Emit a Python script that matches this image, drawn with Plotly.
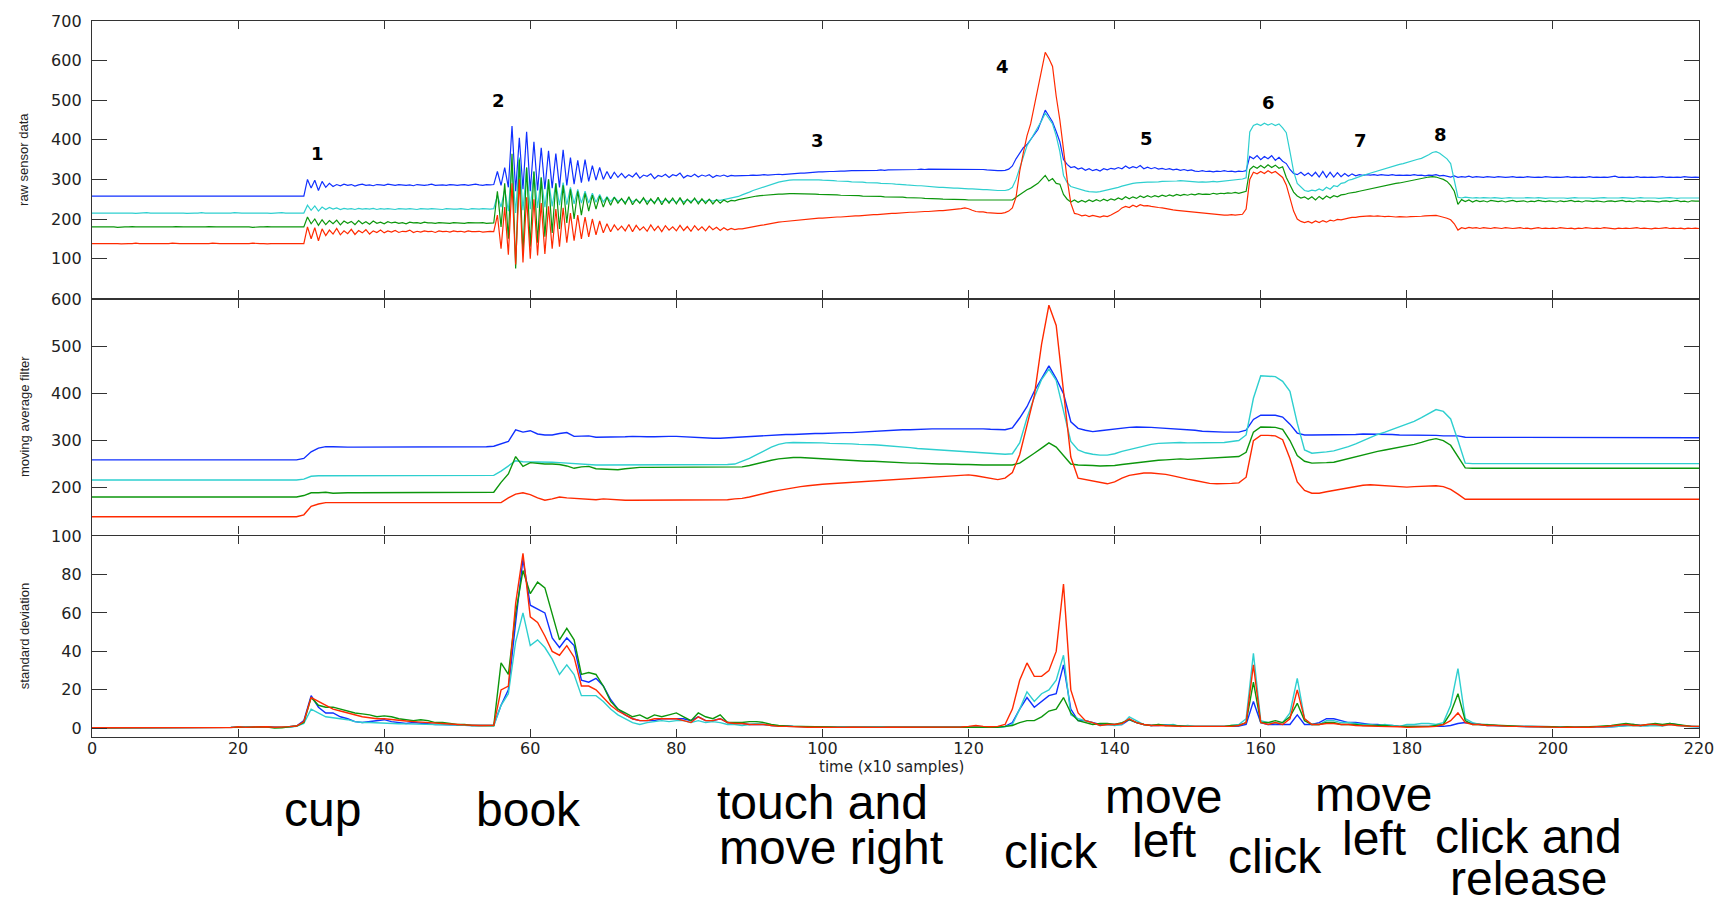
import plotly.graph_objects as go

# ---------------- data: raw sensor data, one value per 0.5 time unit (t = 0 .. 220) ----------------
BLUE_RAW = [
    258, 258, 257, 258, 258, 258, 257, 258, 258, 258, 258, 257, 258, 258, 258, 258, 258, 257, 258, 258,
    258, 258, 258, 257, 258, 258, 258, 258, 257, 258, 258, 258, 258, 258, 257, 258, 258, 258, 258, 258,
    257, 258, 258, 258, 258, 258, 258, 257, 258, 258, 258, 258, 258, 258, 257, 258, 258, 258, 258, 300,
    278, 298, 272, 295, 280, 290, 282, 287, 284, 288, 285, 287, 283, 286, 288, 285, 286, 284, 287, 286,
    285, 288, 286, 285, 287, 286, 285, 286, 284, 287, 286, 285, 286, 288, 285, 286, 286, 285, 287, 286,
    285, 286, 287, 285, 286, 288, 286, 285, 287, 286, 287, 320, 285, 330, 280, 435, 270, 405, 275, 420,
    270, 395, 272, 380, 275, 372, 278, 365, 280, 375, 285, 355, 288, 348, 292, 350, 295, 335, 298, 330,
    300, 320, 302, 318, 305, 315, 304, 312, 306, 316, 303, 311, 308, 314, 302, 310, 307, 313, 305, 312,
    309, 316, 304, 310, 307, 313, 306, 311, 308, 312, 305, 310, 308, 311, 307, 310, 309, 309, 310, 309,
    310, 311, 310, 311, 312, 311, 312, 312, 313, 312, 313, 314, 314, 315, 316, 316, 317, 318, 318, 319,
    319, 320, 320, 320, 321, 321, 321, 322, 322, 322, 322, 323, 322, 323, 323, 323, 324, 323, 324, 324,
    324, 325, 324, 325, 325, 325, 325, 326, 325, 326, 326, 326, 326, 326, 326, 326, 326, 326, 326, 326,
    326, 326, 326, 325, 325, 324, 323, 323, 322, 322, 323, 326, 334, 352, 367, 380, 388, 400, 412, 426,
    450, 475, 460, 445, 421, 395, 350, 338, 330, 332, 326, 329, 323, 327, 322, 325, 321, 327, 324, 328,
    326, 330, 327, 334, 328, 332, 329, 335, 327, 331, 327, 330, 326, 328, 325, 327, 324, 326, 323, 325,
    322, 324, 321, 320, 322, 320, 321, 319, 321, 320, 322, 320, 321, 319, 321, 320, 322, 358, 352, 360,
    350, 358, 352, 360, 348, 356, 346, 340, 325, 315, 312, 318, 310, 316, 308, 318, 306, 320, 305, 318,
    306, 317, 307, 315, 308, 314, 309, 312, 310, 312, 311, 312, 310, 312, 311, 310, 312, 310, 311, 310,
    311, 310, 312, 310, 311, 309, 311, 310, 312, 309, 310, 308, 306, 309, 305, 307, 306, 308, 305, 307,
    306, 305, 307, 306, 305, 307, 306, 305, 306, 307, 305, 306, 305, 307, 306, 305, 306, 305, 307, 306,
    305, 306, 305, 306, 307, 305, 306, 305, 306, 305, 307, 305, 306, 305, 306, 305, 306, 308, 305, 306,
    305, 306, 305, 307, 305, 306, 305, 306, 305, 306, 307, 305, 306, 305, 306, 305, 307, 306, 305, 306,
    305,
]
CYAN_RAW = [
    215, 215, 216, 215, 215, 215, 215, 216, 215, 215, 215, 215, 214, 215, 215, 216, 215, 215, 215, 215,
    215, 215, 216, 215, 215, 215, 214, 215, 215, 215, 216, 215, 215, 215, 215, 215, 214, 215, 215, 216,
    215, 215, 215, 215, 216, 215, 215, 215, 215, 214, 215, 215, 216, 215, 215, 215, 215, 215, 215, 235,
    222, 233, 220, 230, 224, 229, 225, 228, 224, 227, 225, 226, 224, 227, 225, 226, 225, 227, 224, 226,
    225, 226, 225, 224, 226, 225, 225, 226, 225, 224, 226, 225, 225, 226, 225, 225, 224, 226, 225, 225,
    225, 226, 225, 224, 226, 225, 225, 226, 225, 225, 226, 260, 230, 275, 220, 340, 215, 355, 222, 330,
    225, 320, 228, 305, 230, 300, 232, 290, 235, 292, 236, 280, 238, 275, 240, 270, 240, 265, 242, 262,
    243, 256, 244, 255, 245, 250, 242, 252, 243, 249, 241, 251, 244, 248, 242, 250, 243, 249, 244, 248,
    242, 250, 243, 249, 244, 250, 243, 248, 244, 249, 245, 248, 247, 249, 250, 252, 255, 257, 261, 264,
    268, 272, 275, 278, 282, 285, 288, 290, 293, 295, 297, 298, 299, 299, 300, 300, 300, 299, 299, 299,
    298, 298, 297, 297, 296, 296, 295, 295, 294, 294, 293, 293, 292, 292, 291, 291, 290, 290, 289, 289,
    288, 288, 287, 286, 285, 285, 284, 284, 283, 282, 282, 281, 280, 280, 279, 279, 278, 278, 277, 277,
    276, 276, 275, 275, 274, 274, 273, 273, 272, 272, 272, 274, 280, 300, 330, 360, 385, 400, 415, 430,
    448, 467, 455, 440, 410, 370, 310, 292, 282, 279, 276, 273, 271, 269, 268, 268, 269, 271, 273, 275,
    277, 280, 283, 286, 288, 290, 291, 292, 292, 293, 293, 293, 294, 295, 295, 296, 296, 296, 297, 296,
    295, 294, 294, 293, 294, 293, 294, 295, 294, 295, 296, 296, 297, 298, 299, 301, 304, 420, 436, 440,
    436, 442, 437, 441, 436, 440, 430, 418, 370, 320, 290, 280, 272, 270, 273, 271, 276, 272, 280, 275,
    284, 282, 290, 292, 298, 300, 304, 307, 310, 313, 316, 319, 322, 324, 327, 330, 333, 335, 338, 340,
    343, 346, 348, 351, 353, 357, 362, 368, 370, 366, 360, 352, 340, 300, 255, 253, 255, 254, 253, 254,
    253, 254, 253, 253, 254, 253, 252, 253, 254, 253, 253, 252, 253, 254, 253, 253, 254, 253, 252, 253,
    253, 254, 253, 253, 252, 253, 254, 253, 253, 254, 253, 252, 253, 253, 254, 253, 253, 252, 253, 254,
    253, 253, 252, 253, 254, 253, 253, 254, 253, 252, 253, 253, 254, 253, 252, 253, 253, 254, 253, 253,
    253,
]
GREEN_RAW = [
    180, 180, 181, 180, 180, 180, 180, 179, 180, 180, 180, 181, 180, 180, 180, 180, 180, 180, 179, 180,
    180, 180, 180, 181, 180, 180, 180, 180, 180, 179, 180, 180, 181, 180, 180, 180, 180, 180, 180, 181,
    180, 180, 180, 180, 179, 180, 180, 180, 181, 180, 180, 180, 180, 180, 180, 179, 180, 180, 180, 205,
    188, 200, 184, 198, 186, 196, 188, 197, 185, 195, 189, 194, 186, 196, 188, 193, 187, 195, 189, 192,
    188, 193, 190, 192, 189, 191, 188, 192, 190, 191, 189, 192, 190, 190, 189, 191, 190, 190, 189, 191,
    190, 190, 189, 191, 190, 190, 190, 191, 189, 190, 190, 270, 180, 290, 150, 365, 75, 350, 110, 330,
    130, 320, 140, 305, 155, 300, 165, 290, 175, 285, 190, 275, 200, 270, 210, 265, 220, 260, 225, 258,
    230, 255, 235, 255, 240, 252, 238, 256, 236, 250, 240, 254, 237, 251, 239, 255, 236, 252, 240, 253,
    238, 254, 237, 250, 240, 253, 238, 251, 239, 250, 238, 249, 240, 248, 243, 247, 246, 249, 251, 253,
    255, 257, 258, 259, 260, 261, 262, 262, 263, 263, 264, 264, 264, 264, 264, 264, 263, 263, 263, 262,
    262, 262, 261, 261, 261, 260, 260, 260, 259, 259, 259, 258, 258, 258, 257, 257, 257, 256, 256, 256,
    255, 255, 255, 254, 254, 253, 253, 253, 252, 252, 251, 251, 251, 250, 250, 250, 249, 249, 249, 249,
    248, 248, 248, 248, 247, 247, 247, 247, 247, 247, 247, 247, 248, 255, 262, 268, 274, 278, 285, 290,
    300, 310, 296, 302, 290, 288, 262, 250, 243, 248, 242, 247, 243, 248, 244, 249, 245, 250, 246, 251,
    248, 253, 249, 256, 251, 256, 252, 258, 254, 259, 255, 259, 256, 260, 257, 261, 258, 262, 259, 262,
    260, 263, 261, 264, 262, 263, 262, 265, 263, 265, 264, 266, 265, 267, 265, 268, 270, 325, 333, 328,
    335, 329, 337, 330, 336, 328, 332, 305, 285, 268, 258, 253, 256, 250, 256, 248, 257, 250, 258, 253,
    259, 256, 261, 262, 265, 266, 268, 270, 272, 274, 276, 278, 281, 283, 285, 287, 289, 290, 291, 293,
    294, 296, 298, 300, 302, 304, 306, 307, 306, 303, 300, 295, 285, 270, 237, 249, 244, 248, 243, 247,
    244, 246, 243, 247, 245, 244, 246, 243, 245, 247, 244, 245, 246, 243, 245, 244, 247, 245, 244, 246,
    245, 243, 246, 244, 245, 247, 244, 245, 243, 246, 245, 244, 246, 245, 243, 245, 246, 244, 245, 247,
    244, 245, 243, 246, 245, 244, 246, 245, 244, 243, 245, 246, 244, 245, 247, 244, 245, 243, 246, 245,
    245,
]
RED_RAW = [
    138, 138, 138, 139, 138, 138, 138, 138, 137, 138, 138, 138, 139, 138, 138, 138, 138, 138, 138, 137,
    138, 138, 139, 138, 138, 138, 138, 137, 138, 138, 138, 138, 138, 139, 138, 138, 138, 138, 137, 138,
    138, 138, 138, 138, 139, 138, 138, 138, 137, 138, 138, 138, 138, 138, 139, 138, 138, 138, 138, 180,
    150, 178, 145, 175, 158, 172, 162, 176, 160, 170, 163, 174, 161, 171, 165, 173, 162, 170, 166, 172,
    165, 170, 167, 171, 166, 169, 168, 172, 166, 169, 167, 170, 168, 169, 166, 170, 168, 169, 167, 170,
    168, 169, 167, 170, 168, 168, 169, 167, 168, 169, 168, 210, 125, 230, 110, 290, 85, 300, 90, 255,
    100, 250, 108, 240, 112, 232, 125, 225, 130, 228, 140, 215, 145, 210, 150, 205, 155, 200, 160, 195,
    165, 188, 168, 185, 172, 182, 170, 186, 168, 184, 172, 180, 169, 185, 171, 182, 168, 183, 172, 180,
    170, 184, 171, 181, 169, 183, 172, 180, 170, 182, 173, 179, 171, 178, 172, 176, 173, 175, 175, 177,
    178, 180, 182, 184, 185, 187, 189, 190, 192, 193, 194, 195, 196, 197, 198, 199, 200, 200, 201, 202,
    202, 203, 203, 204, 205, 205, 206, 207, 207, 208, 208, 209, 210, 210, 211, 211, 212, 212, 213, 214,
    214, 215, 215, 216, 217, 217, 218, 218, 219, 219, 220, 220, 221, 221, 222, 222, 223, 224, 226, 228,
    226, 222, 219, 218, 218, 216, 215, 214, 214, 214, 216, 220, 228, 255, 320, 367, 410, 440, 484, 530,
    580, 621, 605, 585, 510, 450, 376, 300, 240, 214, 212, 208, 210, 206, 209, 207, 205, 208, 206, 210,
    214, 220, 228, 232, 229, 235, 231, 236, 233, 234, 232, 230, 229, 228, 226, 225, 223, 222, 221, 221,
    220, 219, 218, 217, 215, 214, 213, 212, 211, 211, 210, 210, 211, 210, 211, 212, 225, 300, 318, 314,
    320, 315, 322, 316, 320, 312, 305, 286, 250, 220, 200, 194, 191, 194, 190, 195, 191, 196, 192, 197,
    195, 199, 198, 201, 202, 204, 204, 206, 207, 207, 208, 207, 208, 207, 206, 207, 206, 205, 206, 205,
    205, 206, 206, 207, 207, 208, 208, 208, 209, 207, 205, 202, 198, 188, 172, 178, 176, 179, 177, 178,
    176, 178, 177, 176, 178, 177, 176, 178, 177, 176, 177, 178, 176, 177, 175, 177, 178, 176, 177, 176,
    177, 176, 178, 177, 176, 177, 175, 177, 176, 178, 177, 176, 177, 176, 178, 177, 176, 175, 177, 176,
    177, 176, 177, 178, 176, 177, 176, 175, 177, 176, 177, 178, 176, 177, 176, 177, 175, 177, 176, 177,
    176,
]

# ---------------- data: moving average filter, one value per time unit (t = 0 .. 220) ----------------
BLUE_MA = [
    259, 259, 259, 259, 259, 259, 259, 259, 259, 259,
    259, 259, 259, 259, 259, 259, 259, 259, 259, 259,
    259, 259, 259, 259, 259, 259, 259, 259, 259, 262,
    276, 284, 287, 287, 286, 286, 286, 286, 286, 287,
    287, 287, 287, 286, 286, 286, 287, 287, 286, 287,
    287, 287, 287, 287, 287, 288, 293, 298, 323, 318,
    321, 314, 312, 312, 315, 317, 309, 309, 310, 307,
    307, 308, 308, 308, 309, 308, 308, 308, 309, 309,
    309, 308, 307, 307, 306, 305, 305, 306, 307, 307,
    308, 309, 310, 311, 312, 313, 313, 314, 314, 315,
    315, 316, 316, 317, 317, 318, 319, 320, 321, 322,
    322, 323, 323, 324, 324, 325, 325, 325, 326, 326,
    326, 326, 325, 324, 323, 323, 327, 348, 372, 405,
    432, 459, 432, 400, 340, 326, 322, 319, 321, 323,
    325, 327, 328, 329, 329, 328, 327, 326, 326, 325,
    324, 322, 320, 319, 318, 318, 318, 318, 322, 345,
    354, 354, 354, 350, 335, 316, 312, 312, 312, 312,
    312, 312, 313, 313, 314, 314, 314, 313, 313, 312,
    312, 312, 311, 311, 311, 310, 310, 310, 307, 307,
    307, 307, 307, 306, 307, 307, 307, 306, 307, 307,
    307, 307, 306, 307, 307, 307, 306, 307, 307, 307,
    307, 306, 307, 307, 307, 306, 307, 307, 307, 306,
    306,
]
CYAN_MA = [
    216, 216, 216, 216, 216, 216, 216, 216, 216, 216,
    216, 216, 216, 216, 216, 216, 216, 216, 216, 216,
    216, 216, 216, 216, 216, 216, 216, 216, 216, 218,
    224, 225, 225, 225, 225, 225, 225, 225, 225, 225,
    225, 225, 225, 225, 225, 225, 225, 225, 225, 225,
    225, 225, 225, 225, 225, 226, 235, 247, 257, 255,
    255, 255, 254, 254, 253, 252, 250, 250, 249, 248,
    248, 248, 248, 248, 248, 248, 248, 248, 248, 248,
    248, 248, 248, 248, 248, 248, 248, 249, 250, 256,
    262, 270, 278, 286, 292, 295, 296, 296, 296, 295,
    295, 294, 294, 293, 293, 292, 292, 291, 290, 289,
    287, 286, 285, 283, 282, 281, 280, 279, 278, 277,
    276, 275, 273, 272, 272, 271, 272, 295, 348, 392,
    430, 452, 428, 365, 298, 280, 274, 271, 269, 269,
    272, 277, 281, 285, 289, 292, 294, 295, 296, 296,
    295, 295, 295, 295, 295, 296, 298, 300, 312, 390,
    438, 437, 436, 426, 405, 337, 280, 273, 274, 276,
    278, 282, 287, 293, 300, 307, 313, 318, 324, 329,
    335, 341, 349, 358, 366, 362, 346, 300, 252, 251,
    251, 251, 251, 251, 251, 251, 251, 251, 251, 251,
    251, 251, 251, 251, 251, 251, 251, 251, 251, 251,
    251, 251, 251, 251, 251, 251, 251, 251, 251, 251,
    251,
]
GREEN_MA = [
    180, 180, 180, 180, 180, 180, 180, 180, 180, 180,
    180, 180, 180, 180, 180, 180, 180, 180, 180, 180,
    180, 180, 180, 180, 180, 180, 180, 180, 180, 183,
    189, 189, 190, 188, 189, 189, 189, 189, 189, 189,
    189, 189, 189, 189, 189, 189, 189, 189, 189, 189,
    189, 189, 189, 189, 189, 190, 211, 229, 266, 245,
    253, 251, 250, 250, 249, 246, 241, 244, 245, 240,
    239, 238, 238, 240, 242, 243, 243, 243, 243, 243,
    243, 243, 243, 243, 243, 243, 243, 243, 243, 244,
    247, 251, 255, 258, 261, 263, 264, 264, 263, 262,
    261, 260, 259, 258, 258, 257, 256, 256, 255, 254,
    253, 253, 252, 252, 251, 251, 250, 250, 249, 249,
    249, 248, 248, 248, 248, 248, 248, 252, 262, 273,
    284, 295, 286, 268, 250, 248, 248, 247, 246, 246,
    247, 249, 251, 253, 255, 257, 258, 259, 260, 261,
    260, 261, 262, 263, 264, 264, 265, 266, 275, 318,
    329, 329, 328, 324, 300, 268, 256, 252, 252, 253,
    254, 258, 262, 266, 270, 274, 277, 280, 283, 286,
    288, 292, 296, 301, 304, 300, 290, 265, 242, 241,
    241, 241, 241, 241, 241, 241, 241, 241, 241, 241,
    241, 241, 241, 241, 241, 241, 241, 241, 241, 241,
    241, 241, 241, 241, 241, 241, 241, 241, 241, 241,
    241,
]
RED_MA = [
    138, 138, 138, 138, 138, 138, 138, 138, 138, 138,
    138, 138, 138, 138, 138, 138, 138, 138, 138, 138,
    138, 138, 138, 138, 138, 138, 138, 138, 138, 142,
    160, 165, 168, 168, 168, 168, 168, 168, 168, 168,
    168, 168, 168, 168, 168, 168, 168, 168, 168, 168,
    168, 168, 168, 168, 168, 167, 168, 178, 186, 189,
    185, 178, 173, 176, 180, 178, 177, 177, 176, 174,
    176, 175, 173, 173, 173, 173, 173, 173, 173, 173,
    173, 173, 173, 173, 173, 173, 173, 174, 176, 177,
    180, 184, 188, 191, 194, 197, 200, 202, 204, 206,
    207, 208, 209, 211, 212, 213, 214, 215, 216, 217,
    218, 219, 220, 221, 222, 223, 224, 225, 226, 227,
    227, 225, 222, 219, 217, 220, 232, 270, 330, 395,
    505, 588, 545, 400, 265, 220, 217, 215, 211, 208,
    212, 220, 226, 229, 231, 231, 230, 228, 225, 221,
    218, 215, 212, 209, 208, 208, 209, 210, 222, 300,
    311, 311, 310, 302, 262, 212, 194, 188, 188, 191,
    194, 197, 200, 203, 205, 206, 205, 204, 203, 202,
    201, 202, 203, 204, 204, 202, 196, 186, 175, 175,
    175, 175, 175, 175, 175, 175, 175, 175, 175, 175,
    175, 175, 175, 175, 175, 175, 175, 175, 175, 175,
    175, 175, 175, 175, 175, 175, 175, 175, 175, 175,
    175,
]

# ---------------- data: standard deviation, one value per time unit (t = 0 .. 220) ----------------
BLUE_SD = [
    0.3, 0.2, 0.3, 0.2, 0.3, 0.3, 0.2, 0.3, 0.2, 0.3,
    0.3, 0.2, 0.4, 0.3, 0.3, 0.2, 0.3, 0.3, 0.4, 0.5,
    0.6, 0.5, 0.7, 0.6, 0.8, 0.7, 0.5, 0.8, 1.2, 4,
    17, 11, 8, 8, 6, 5, 3.5, 3, 3.5, 4,
    4.5, 3.5, 3, 2.5, 3, 2.6, 2.2, 2, 2, 1.8,
    1.7, 1.6, 1.5, 1.5, 1.5, 1.7, 12, 20, 55, 88,
    64, 62, 60, 47, 42, 47, 43, 25, 24, 26,
    22, 15, 10, 7, 5, 4, 4, 4, 5, 5,
    5, 5, 4, 6, 4, 4, 5, 3, 2.5, 2.5,
    2, 2, 2, 1.5, 1.5, 1.2, 1, 1, 0.8, 0.8,
    0.8, 0.7, 0.6, 0.6, 0.5, 0.5, 0.5, 0.4, 0.5, 0.5,
    0.5, 0.4, 0.4, 0.5, 0.5, 0.5, 0.4, 0.5, 0.5, 0.5,
    0.5, 0.6, 0.6, 0.5, 0.6, 1, 3, 10, 16, 11,
    14, 17, 18, 33, 10, 4, 4, 3, 2, 2,
    2, 2, 4.5, 3, 2, 1.5, 1.5, 1.8, 1.5, 1.2,
    1, 1, 1, 0.8, 0.8, 0.8, 1, 1.2, 2, 14,
    3, 2, 2, 2, 2, 7, 2, 2, 3, 5,
    5, 4, 3, 3, 2.5, 2, 2, 1.5, 1.5, 1,
    1, 1, 1, 1, 1, 1, 1.5, 2.5, 3, 2.5,
    2, 1.5, 1.5, 1.2, 1, 1, 1, 0.8, 0.8, 0.8,
    0.8, 0.6, 0.6, 0.5, 0.6, 0.8, 0.6, 0.6, 0.8, 1,
    1.5, 2, 1.5, 1.5, 2, 1.5, 2.5, 1.8, 1.2, 1,
    0.8,
]
CYAN_SD = [
    0.2, 0.2, 0.3, 0.2, 0.2, 0.3, 0.2, 0.2, 0.3, 0.2,
    0.2, 0.3, 0.2, 0.3, 0.2, 0.2, 0.3, 0.3, 0.3, 0.4,
    0.5, 0.5, 0.6, 0.6, 0.7, 0.5, 0.4, 0.7, 1, 2.5,
    10, 8, 6, 5.5, 5, 4.5, 3.5, 3, 3, 2.8,
    2.5, 2.5, 2.4, 2.3, 2.2, 2, 2, 1.9, 1.8, 1.7,
    1.5, 1.4, 1.3, 1.3, 1.2, 1.2, 12, 18, 45, 60,
    43, 46, 42, 36, 28, 33, 28, 17, 17, 17,
    14, 10, 7, 5, 3, 2, 3, 3.5, 4, 3.5,
    4, 4, 3, 4, 3, 3.5, 3, 2, 2, 1.5,
    2, 2.5, 2, 1.5, 1, 1, 1, 0.8, 0.8, 0.8,
    0.8, 0.7, 0.6, 0.6, 0.5, 0.5, 0.5, 0.5, 0.4, 0.5,
    0.5, 0.5, 0.4, 0.4, 0.5, 0.4, 0.5, 0.5, 0.4, 0.5,
    0.5, 0.5, 0.6, 0.5, 0.5, 0.8, 2, 10, 19, 14,
    18, 20, 25, 38, 7, 5, 4, 3, 1.5, 2,
    1.5, 2, 6, 4, 2, 1.5, 2, 1.5, 2, 1,
    1.5, 1, 1, 1, 1, 1, 1.5, 2, 5, 39,
    4, 3, 2.5, 3, 8, 26, 5, 2, 2, 4,
    4, 3, 3, 2.5, 2, 2, 1.5, 2, 1.5, 1,
    2, 2, 2.5, 2.5, 2, 3, 12, 31, 5, 3,
    2, 2, 1.5, 1.5, 1.2, 1, 1, 0.8, 0.8, 0.6,
    0.6, 0.5, 0.6, 0.5, 0.5, 0.6, 0.5, 0.6, 0.8, 1,
    1.2, 1.5, 1.2, 1.5, 1.5, 1.2, 2, 1.5, 1, 0.8,
    0.8,
]
GREEN_SD = [
    0.3, 0.3, 0.2, 0.3, 0.3, 0.3, 0.2, 0.3, 0.3, 0.2,
    0.3, 0.4, 0.5, 0.4, 0.3, 0.4, 0.3, 0.3, 0.4, 0.5,
    0.6, 0.5, 0.6, 0.8, 0.7, 0.2, 0.3, 0.8, 1.2, 3,
    16, 12, 11, 11, 10, 9, 8, 7.5, 7, 6,
    6.5, 6, 5, 4.5, 4, 4.5, 4, 3, 3, 2.5,
    2, 2, 1.5, 1.5, 1.5, 1.5, 34, 28, 60, 82,
    70, 76, 73, 60, 46, 52, 46, 28, 29, 28,
    22, 14, 10, 8, 6, 7, 5, 7, 6, 7,
    8, 6, 4, 8, 6, 5, 7, 3, 3, 3,
    3.5, 3.5, 3, 2, 1.5, 1.2, 1, 1, 1, 0.8,
    0.8, 0.7, 0.6, 0.6, 0.5, 0.5, 0.5, 0.5, 0.4, 0.5,
    0.5, 0.5, 0.4, 0.3, 0.4, 0.4, 0.5, 0.4, 0.5, 0.5,
    0.6, 0.6, 0.5, 0.6, 0.6, 1, 1.5, 3, 4, 4,
    6, 9, 10, 16, 8, 4, 3, 2, 2.5, 2.5,
    2, 3, 4.5, 3, 2, 1.5, 2, 1.5, 1.5, 1.2,
    1, 1, 1, 1, 1, 1, 1.5, 1.5, 3, 24,
    3, 3, 4, 3, 6, 13, 4, 2, 2, 3,
    3, 2, 2, 2, 1.5, 1.5, 1.5, 1.5, 1, 1,
    1, 1, 1, 1, 1.5, 2, 8, 18, 4, 2,
    2, 1.8, 1.5, 1.5, 1.2, 1.2, 1, 1, 1, 0.8,
    0.8, 0.6, 0.8, 0.6, 0.6, 0.8, 1, 1.2, 1.5, 2,
    2.5, 2, 1.5, 2, 2.5, 2, 2.5, 2, 1.5, 1,
    1,
]
RED_SD = [
    0.3, 0.3, 0.3, 0.2, 0.3, 0.3, 0.3, 0.2, 0.3, 0.3,
    0.3, 0.3, 0.4, 0.3, 0.3, 0.4, 0.3, 0.3, 0.4, 0.4,
    0.8, 0.5, 0.7, 0.8, 0.8, 0.6, 0.6, 0.9, 1.2, 3.5,
    16, 14, 12, 10, 9, 8, 7, 6, 5.5, 5,
    5, 4.5, 4, 3.8, 3.5, 3.2, 3, 2.8, 2.5, 2.2,
    2, 1.8, 1.5, 1.5, 1.5, 1.6, 20, 22, 65, 91,
    58, 55, 48, 40, 38, 43, 37, 22, 22, 20,
    16, 12, 9, 7, 5, 4, 4, 5, 5, 5,
    5, 4, 3, 6, 4, 4, 5, 3, 2.5, 2.5,
    2, 2, 2, 1.5, 1, 1, 0.8, 0.8, 0.6, 0.6,
    0.5, 0.6, 0.5, 0.5, 0.6, 0.5, 0.5, 0.6, 0.5, 0.6,
    0.6, 0.5, 0.5, 0.6, 0.6, 0.5, 0.6, 0.5, 0.6, 0.7,
    1, 1.5, 1, 0.8, 1, 2, 10, 25, 34, 27,
    27, 30, 40, 75, 20, 8, 4, 3, 1.5, 2,
    2, 2.5, 5, 3, 2, 1.5, 1.5, 1.5, 1.2, 1,
    1, 0.8, 0.8, 0.8, 0.8, 1, 1, 1.5, 3, 33,
    3, 2, 3, 2, 5, 20, 5, 2, 2, 2.5,
    2.5, 2, 2, 1.5, 1.5, 1.2, 1, 1, 0.8, 0.8,
    0.5, 0.5, 0.5, 0.8, 1, 2, 4, 8, 3, 2,
    2, 1.5, 1.5, 1.2, 1, 1, 0.8, 0.8, 0.8, 0.6,
    0.6, 0.5, 0.6, 0.5, 0.5, 0.6, 0.8, 0.8, 1.2, 1.5,
    2, 1.5, 1.5, 2, 2, 1.5, 2, 1.5, 1.2, 1,
    1,
]

# ---------------- labels ----------------
Y_TITLES = ["raw sensor data", "moving average filter", "standard deviation"]
X_TITLE = "time (x10 samples)"
EVENT_NUMBERS = ["1", "2", "3", "4", "5", "6", "7", "8"]
EVENT_X = [30.9, 55.7, 99.3, 124.7, 144.3, 161.1, 173.6, 184.6]
EVENT_Y = [365, 500, 398, 585, 403, 494, 398, 414]
# (text line, time position of its centre, pixel row of its centre)
ACTIONS = [
    ("cup", 31.5, 810), ("book", 59.7, 810),
    ("touch and", 100.0, 803), ("move right", 101.2, 849),
    ("click", 131.3, 853), ("move", 146.7, 797), ("left", 146.7, 842),
    ("click", 162.0, 858), ("move", 175.5, 795), ("left", 175.5, 840),
    ("click and", 196.6, 838), ("release", 196.6, 880),
]
X_TICKS = [0, 20, 40, 60, 80, 100, 120, 140, 160, 180, 200, 220]

N_RAW, N_SLOW = 441, 221
for name, arr, n in [("BLUE_RAW", BLUE_RAW, N_RAW), ("CYAN_RAW", CYAN_RAW, N_RAW),
                     ("GREEN_RAW", GREEN_RAW, N_RAW), ("RED_RAW", RED_RAW, N_RAW),
                     ("BLUE_MA", BLUE_MA, N_SLOW), ("CYAN_MA", CYAN_MA, N_SLOW),
                     ("GREEN_MA", GREEN_MA, N_SLOW), ("RED_MA", RED_MA, N_SLOW),
                     ("BLUE_SD", BLUE_SD, N_SLOW), ("CYAN_SD", CYAN_SD, N_SLOW),
                     ("GREEN_SD", GREEN_SD, N_SLOW), ("RED_SD", RED_SD, N_SLOW)]:
    if len(arr) != n:
        raise ValueError(f"{name}: {len(arr)} values, expected {n}")

T_RAW = [i * 0.5 for i in range(N_RAW)]
T_SLOW = list(range(N_SLOW))

COLORS = {"blue": "#1030ff", "cyan": "#2ecfcf", "green": "#0c960c", "red": "#ff2a00"}

# ---------------- layout geometry (pixels) ----------------
W, H = 1729, 902
L, R, T, B = 92, 30, 13, 165
PH = H - T - B
PW = W - L - R
Y_TOP_BOTTOM = 294     # pixel row separating top and middle panels
Y_MID_BOTTOM = 533     # pixel row separating middle and bottom panels
LW = 1.4               # frame line width
HALF = LW / 2


def py(row):
    return (H - B - row) / PH


def px(col):
    return (col - L) / PW


fig = go.Figure()
panels = [
    ("x", "y", T_RAW, [BLUE_RAW, CYAN_RAW, GREEN_RAW, RED_RAW], 1.2),
    ("x2", "y2", T_SLOW, [BLUE_MA, CYAN_MA, GREEN_MA, RED_MA], 1.4),
    ("x3", "y3", T_SLOW, [BLUE_SD, CYAN_SD, GREEN_SD, RED_SD], 1.4),
]
for xa, ya, t, series, lw in panels:
    for col, vals in zip(["blue", "cyan", "green", "red"], series):
        fig.add_trace(go.Scatter(x=t, y=vals, mode="lines", xaxis=xa, yaxis=ya,
                                 line=dict(color=COLORS[col], width=lw),
                                 showlegend=False, hoverinfo="skip"))

tickfont = dict(family="DejaVu Sans, Verdana, sans-serif", size=16, color="#222")
common = dict(showgrid=False, zeroline=False, showline=True, linecolor="#333", linewidth=LW,
              mirror="ticks", ticks="inside", tickcolor="#333", tickwidth=1.3)

xcommon = dict(common, range=[0, 220], tickvals=X_TICKS, ticklen=8)
fig.update_layout(
    xaxis=dict(xcommon, anchor="y", domain=[0, 1], showticklabels=False),
    xaxis2=dict(xcommon, anchor="y2", domain=[0, 1], showticklabels=False, matches="x"),
    xaxis3=dict(xcommon, anchor="y3", domain=[0, 1], matches="x", tickfont=tickfont,
                ticklabelstandoff=-3),
    yaxis=dict(common, anchor="x", domain=[py(Y_TOP_BOTTOM - HALF), 1], range=[0, 700],
               tickvals=[100, 200, 300, 400, 500, 600, 700], ticklen=15,
               tickfont=tickfont, ticklabelstandoff=6),
    yaxis2=dict(common, anchor="x2",
                domain=[py(Y_MID_BOTTOM - HALF), py(Y_TOP_BOTTOM + HALF)],
                range=[100, 600], tickvals=[200, 300, 400, 500, 600], ticklen=15,
                tickfont=tickfont, ticklabelstandoff=6),
    yaxis3=dict(common, anchor="x3", domain=[0, py(Y_MID_BOTTOM + HALF)], range=[-4.5, 100],
                tickvals=[0, 20, 40, 60, 80, 100], ticklen=15,
                tickfont=tickfont, ticklabelstandoff=6),
    width=W, height=H, autosize=False,
    margin=dict(l=L, r=R, t=T, b=B, pad=0),
    paper_bgcolor="white", plot_bgcolor="white",
)

annotations = []
small = dict(family="Liberation Sans, Arial, sans-serif", size=13, color="#222")
for title, (top, bottom) in zip(Y_TITLES, [(T, Y_TOP_BOTTOM), (Y_TOP_BOTTOM, Y_MID_BOTTOM),
                                           (Y_MID_BOTTOM, H - B)]):
    annotations.append(dict(text=title, xref="paper", yref="paper", x=px(24),
                            y=py((top + bottom) / 2), textangle=-90, showarrow=False,
                            xanchor="center", yanchor="middle", font=small))
annotations.append(dict(text=X_TITLE, xref="x3", yref="paper", x=109.4, y=py(767),
                        showarrow=False, xanchor="center", yanchor="middle",
                        font=dict(family="DejaVu Sans, sans-serif", size=15, color="#222")))
for lab, ex, ey in zip(EVENT_NUMBERS, EVENT_X, EVENT_Y):
    annotations.append(dict(text=f"<b>{lab}</b>", xref="x", yref="y", x=ex, y=ey,
                            showarrow=False, xanchor="center", yanchor="middle",
                            font=dict(family="DejaVu Sans, sans-serif", size=18, color="black")))
big = dict(family="Liberation Sans, Arial, sans-serif", size=48, color="black")
for text, tx, row in ACTIONS:
    annotations.append(dict(text=text, xref="x3", yref="paper", x=tx, y=py(row),
                            showarrow=False, xanchor="center", yanchor="middle", font=big))
fig.update_layout(annotations=annotations)

fig.write_html("out.html", config={"displayModeBar": False},
               post_script="document.body.style.margin='0';")
